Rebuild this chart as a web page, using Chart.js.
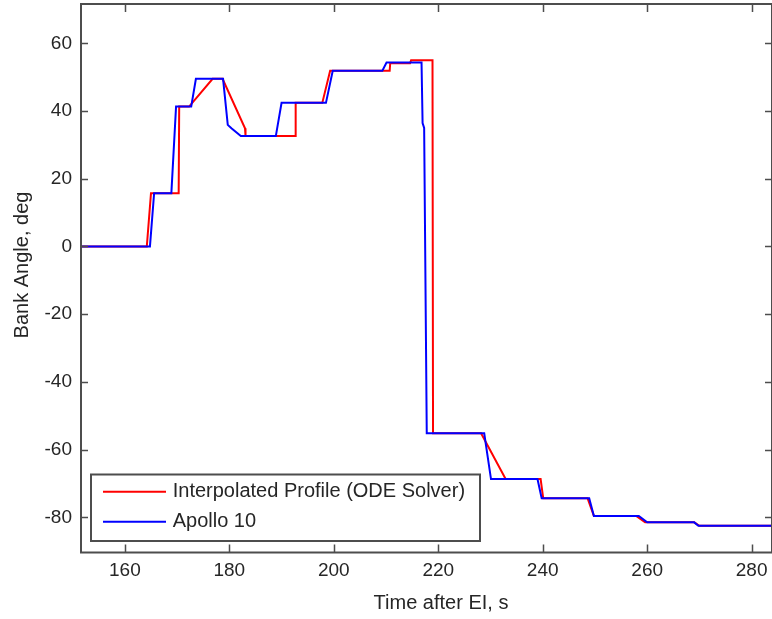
<!DOCTYPE html>
<html lang="en">
<head>
  <meta charset="UTF-8">
  <title>Bank Angle vs Time after EI</title>
  <style>
    html, body {
      margin: 0;
      padding: 0;
      background-color: #fff;
      overflow: hidden;
    }
    canvas {
      display: block;
    }
  </style>
</head>
<body>
  <canvas id="chart" width="772" height="619"></canvas>

  <script src="https://cdn.jsdelivr.net/npm/chart.js"></script>
  <script>
    // Interpolated profile (ODE solver)
    const odeTime = [151.6, 164.2, 165.0, 170.3, 170.4, 172.3, 176.8, 178.7, 183.0, 183.1, 192.6, 192.7,
      197.8, 199.3, 210.7, 210.8, 214.6, 214.8, 218.9, 219.0, 228.2, 232.9, 239.6, 240.1,
      248.6, 249.8, 257.9, 259.6, 269.0, 270.0, 283.9];
    const odeBank = [0, 0, 15.7, 15.7, 41.3, 41.3, 49.5, 49.5, 34.9, 32.6, 32.6, 42.4,
      42.4, 51.9, 51.9, 54.1, 54.1, 55.0, 55.0, -55.2, -55.2, -68.7, -68.7, -74.4,
      -74.4, -79.6, -79.6, -81.5, -81.5, -82.5, -82.5];

    // Apollo 10 flight profile
    const apolloTime = [151.6, 164.8, 165.6, 168.9, 169.8, 172.7, 173.6, 178.8, 179.7, 180.4, 182.2,
      188.9, 190.0, 198.5, 199.8, 209.3, 210.1, 216.8, 217.0, 217.3, 217.8, 228.8, 230.1,
      239.0, 239.8, 248.9, 249.8, 258.4, 260.0, 269.0, 269.8, 283.9];
    const apolloBank = [0, 0, 15.7, 15.7, 41.3, 41.3, 49.5, 49.5, 35.9, 34.9, 32.6,
      32.6, 42.4, 42.4, 51.9, 51.9, 54.3, 54.3, 36.4, 35.0, -55.2, -55.2, -68.7,
      -68.7, -74.4, -74.4, -79.6, -79.6, -81.5, -81.5, -82.5, -82.5];

    const xTicks = [160, 180, 200, 220, 240, 260, 280];
    const yTicks = [-80, -60, -40, -20, 0, 20, 40, 60];

    const seriesNames = ['Interpolated Profile (ODE Solver)', 'Apollo 10'];
    const seriesColors = ['#ff0000', '#0000ff'];

    const fontFamily = '"Liberation Sans", Arial, sans-serif';
    const textColor = '#262626';
    const frameColor = '#4d4d4d';

    function toPoints(xs, ys) {
      return xs.map((t, i) => ({ x: t, y: ys[i] }));
    }

    // matlab style box, inward ticks, axis titles and legend
    const matlabFrame = {
      id: 'matlabFrame',
      afterDatasetsDraw(chart) {
        const ctx = chart.ctx;
        const a = chart.chartArea;
        const xs = chart.scales.x;
        const ys = chart.scales.y;
        ctx.save();

        ctx.strokeStyle = frameColor;
        ctx.lineWidth = 2;
        ctx.strokeRect(a.left, a.top, a.right - a.left, a.bottom - a.top);

        ctx.lineWidth = 1.5;
        ctx.beginPath();
        xTicks.forEach(v => {
          const px = Math.round(xs.getPixelForValue(v)) + 0.5;
          ctx.moveTo(px, a.bottom); ctx.lineTo(px, a.bottom - 8);
          ctx.moveTo(px, a.top); ctx.lineTo(px, a.top + 8);
        });
        yTicks.forEach(v => {
          const py = Math.round(ys.getPixelForValue(v)) + 0.5;
          ctx.moveTo(a.left, py); ctx.lineTo(a.left + 7, py);
          ctx.moveTo(a.right, py); ctx.lineTo(a.right - 7, py);
        });
        ctx.stroke();

        // axis titles
        ctx.fillStyle = textColor;
        ctx.font = '20px ' + fontFamily;
        ctx.textAlign = 'center';
        ctx.textBaseline = 'middle';
        ctx.fillText('Time after EI, s', 441, 603.5);
        ctx.save();
        ctx.translate(22.5, 265);
        ctx.rotate(-Math.PI / 2);
        ctx.fillText('Bank Angle, deg', 0, 0);
        ctx.restore();

        // legend box
        const lx = 91, ly = 474.5, lw = 389, lh = 66.5;
        ctx.fillStyle = '#fff';
        ctx.fillRect(lx, ly, lw, lh);
        ctx.strokeStyle = frameColor;
        ctx.lineWidth = 2;
        ctx.strokeRect(lx, ly, lw, lh);
        ctx.textAlign = 'left';
        seriesNames.forEach((name, i) => {
          const rowY = 491.7 + i * 30;
          ctx.strokeStyle = seriesColors[i];
          ctx.lineWidth = 2;
          ctx.beginPath();
          ctx.moveTo(103, rowY);
          ctx.lineTo(166, rowY);
          ctx.stroke();
          ctx.fillStyle = textColor;
          ctx.fillText(name, 172.7, rowY);
        });

        ctx.restore();
      }
    };

    new Chart(document.getElementById('chart'), {
      type: 'line',
      data: {
        datasets: [
          {
            label: seriesNames[0],
            data: toPoints(odeTime, odeBank),
            borderColor: seriesColors[0],
            borderWidth: 2,
            pointRadius: 0,
            tension: 0,
            order: 2
          },
          {
            label: seriesNames[1],
            data: toPoints(apolloTime, apolloBank),
            borderColor: seriesColors[1],
            borderWidth: 2,
            pointRadius: 0,
            tension: 0,
            order: 1
          }
        ]
      },
      options: {
        responsive: false,
        animation: false,
        events: [],
        layout: {
          // plot box runs right up to (and just past) the right edge, as in the cropped original
          padding: { top: 4, right: -1, left: 0, bottom: 0 }
        },
        plugins: {
          legend: { display: false },
          tooltip: { enabled: false }
        },
        scales: {
          x: {
            type: 'linear',
            min: 151.6,
            max: 283.9,
            afterFit: s => {
              s.height = 66.5;
              s.paddingLeft = 0;
              s.paddingRight = 0;
            },
            afterBuildTicks: s => { s.ticks = xTicks.map(v => ({ value: v })); },
            grid: { display: false, drawTicks: false },
            border: { display: false },
            ticks: {
              padding: 7,
              autoSkip: false,
              maxRotation: 0,
              color: textColor,
              font: { family: fontFamily, size: 19 }
            }
          },
          y: {
            type: 'linear',
            min: -90.4,
            max: 71.6,
            afterFit: s => {
              s.width = 81;
              s.paddingTop = 0;
              s.paddingBottom = 0;
            },
            afterBuildTicks: s => { s.ticks = yTicks.map(v => ({ value: v })); },
            grid: { display: false, drawTicks: false },
            border: { display: false },
            ticks: {
              padding: 9,
              color: textColor,
              font: { family: fontFamily, size: 19 }
            }
          }
        }
      },
      plugins: [matlabFrame]
    });
  </script>
</body>
</html>
